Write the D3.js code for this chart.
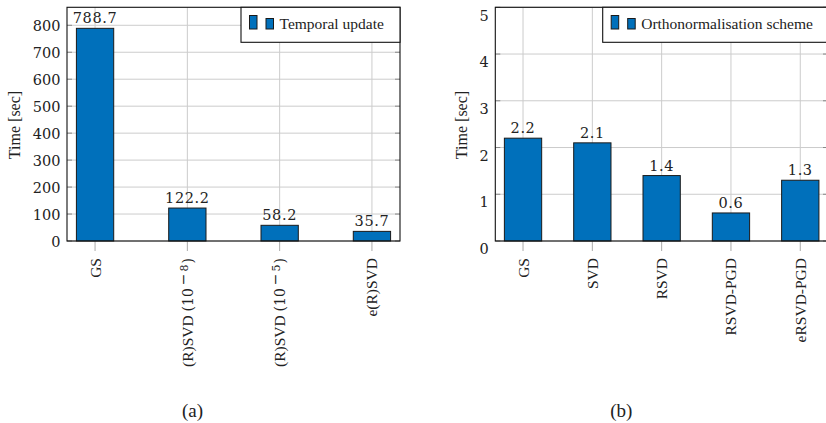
<!DOCTYPE html>
<html>
<head>
<meta charset="utf-8">
<script src="https://cdn.jsdelivr.net/npm/d3@7"></script>
<style>
  html, body { margin: 0; padding: 0; background: #fff; }
  svg { display: block; }
</style>
</head>
<body>
<svg id="fig" width="826" height="423"></svg>
<script>
// Temporal update timings
const catsA = ["GS", "(R)SVD (10^-8)", "(R)SVD (10^-5)", "e(R)SVD"];
const valsA = [788.7, 122.2, 58.2, 35.7];
const ticksA = [0, 100, 200, 300, 400, 500, 600, 700, 800];
const legendA = "Temporal update";

// Orthonormalisation scheme timings
const catsB = ["GS", "SVD", "RSVD", "RSVD-PGD", "eRSVD-PGD"];
const valsB = [2.2, 2.1, 1.4, 0.6, 1.3];
const ticksB = [0, 1, 2, 3, 4, 5];
const legendB = "Orthonormalisation scheme";

const yTitle = "Time [sec]";
const captions = ["(a)", "(b)"];

const BLUE = "#0070bb";
const serif = "'Liberation Serif', 'Times New Roman', serif";
const numFont = "'DejaVu Serif', serif";

const svg = d3.select("#fig");

function panel(opt) {
  const g = svg.append("g");
  const x = d3.scalePoint().domain(opt.cats).range([opt.x0, opt.x1]).padding(opt.pad);
  const y = d3.scaleLinear().domain([0, opt.ymax]).range([opt.y1, opt.y0]);
  const barW = 37.3;

  // grid
  g.append("g").selectAll("line.v").data(opt.cats).join("line")
    .attr("x1", d => x(d)).attr("x2", d => x(d))
    .attr("y1", opt.y0).attr("y2", opt.y1)
    .attr("stroke", "#cccccc").attr("stroke-width", 1);
  g.append("g").selectAll("line.h").data(opt.ticks).join("line")
    .attr("x1", opt.x0).attr("x2", opt.x1)
    .attr("y1", d => y(d)).attr("y2", d => y(d))
    .attr("stroke", "#cccccc").attr("stroke-width", 1);

  // y tick marks (inside the frame)
  g.append("g").selectAll("line").data(opt.ticks).join("line")
    .attr("x1", opt.x0).attr("x2", opt.x0 + 5)
    .attr("y1", d => y(d)).attr("y2", d => y(d))
    .attr("stroke", "#888").attr("stroke-width", 1);
  g.append("g").selectAll("line").data(opt.ticks).join("line")
    .attr("x1", opt.x1 - 5).attr("x2", opt.x1)
    .attr("y1", d => y(d)).attr("y2", d => y(d))
    .attr("stroke", "#888").attr("stroke-width", 1);

  // x tick marks below the axis
  g.append("g").selectAll("line").data(opt.cats).join("line")
    .attr("x1", d => x(d)).attr("x2", d => x(d))
    .attr("y1", opt.y1).attr("y2", opt.y1 + 10)
    .attr("stroke", "#aaaaaa").attr("stroke-width", 1);

  // bars
  const data = opt.cats.map((c, i) => ({c, v: opt.vals[i]}));
  g.append("g").selectAll("rect").data(data).join("rect")
    .attr("x", d => x(d.c) - barW / 2)
    .attr("width", barW)
    .attr("y", d => y(d.v))
    .attr("height", d => y(0) - y(d.v))
    .attr("fill", BLUE)
    .attr("stroke", "#1a1a1a").attr("stroke-width", 1);

  // value labels
  g.append("g").selectAll("text").data(data).join("text")
    .attr("x", d => x(d.c))
    .attr("y", d => y(d.v) - 5)
    .attr("text-anchor", "middle")
    .attr("font-family", numFont).attr("font-size", 14.5)
    .attr("letter-spacing", 0.6)
    .attr("fill", "#222")
    .text(d => d.v.toFixed(1));

  // frame
  g.append("rect")
    .attr("x", opt.x0).attr("y", opt.y0)
    .attr("width", opt.x1 - opt.x0).attr("height", opt.y1 - opt.y0)
    .attr("fill", "none").attr("stroke", "#111").attr("stroke-width", 1.1);

  // y tick labels
  g.append("g").selectAll("text").data(opt.ticks).join("text")
    .attr("x", opt.x0 - 6.5)
    .attr("y", d => y(d) + opt.labelShift)
    .attr("dy", "0.36em")
    .attr("text-anchor", "end")
    .attr("font-family", numFont).attr("font-size", 14.5)
    .attr("fill", "#222")
    .text(d => d);

  // x labels, rotated
  const xl = g.append("g").selectAll("text").data(opt.cats).join("text")
    .attr("transform", d => `translate(${x(d) + 5.5},${opt.y1 + 17}) rotate(-90)`)
    .attr("text-anchor", "end")
    .attr("font-family", serif).attr("font-size", 15.5)
    .attr("fill", "#222");
  xl.each(function(d) {
    const t = d3.select(this);
    const m = d.match(/^(.*) \(10\^(-?\d+)\)$/);
    if (m) {
      t.append("tspan").text(m[1] + " ");
      t.append("tspan").attr("font-family", numFont).attr("font-size", 14).text("(10");
      t.append("tspan").attr("font-family", numFont).attr("font-size", 14)
        .attr("dy", -5).attr("dx", 3).text("\u2212");
      t.append("tspan").attr("font-family", numFont).attr("font-size", 11)
        .attr("dx", 2).text(m[2].replace("-", ""));
      t.append("tspan").attr("font-family", numFont).attr("font-size", 14)
        .attr("dy", 5).attr("dx", 1).text(")");
    } else {
      t.text(d);
    }
  });

  // y title
  g.append("text")
    .attr("transform", `translate(${opt.titleX},125) rotate(-90)`)
    .attr("text-anchor", "middle").attr("dy", "0.35em")
    .attr("font-family", serif).attr("font-size", 16)
    .attr("fill", "#222")
    .text(yTitle);

  // legend
  const lg = g.append("g");
  lg.append("rect")
    .attr("x", opt.legX).attr("y", opt.y0)
    .attr("width", opt.x1 - opt.legX).attr("height", 35)
    .attr("fill", "#fff").attr("stroke", "#111").attr("stroke-width", 1.1);
  lg.append("rect")
    .attr("x", opt.legX + 8.5).attr("y", 15.5).attr("width", 7.5).attr("height", 13.5)
    .attr("fill", BLUE).attr("stroke", "#1a1a1a").attr("stroke-width", 1);
  lg.append("rect")
    .attr("x", opt.legX + 25).attr("y", 18.5).attr("width", 7.5).attr("height", 10.5)
    .attr("fill", BLUE).attr("stroke", "#1a1a1a").attr("stroke-width", 1);
  lg.append("text")
    .attr("x", opt.legX + 38.5).attr("y", 28.5)
    .attr("font-family", serif).attr("font-size", 15.5)
    .attr("fill", "#222")
    .text(opt.legend);

  // caption
  svg.append("text")
    .attr("x", opt.capX).attr("y", 416.5)
    .attr("text-anchor", "middle")
    .attr("font-family", serif).attr("font-size", 19)
    .attr("fill", "#222")
    .text(opt.caption);
}

panel({
  cats: catsA, vals: valsA, ticks: ticksA, ymax: 866.7,
  x0: 67, x1: 400, y0: 7.3, y1: 241, pad: 0.304,
  labelShift: 0.5, titleX: 14, legX: 241, legend: legendA,
  capX: 192.5, caption: captions[0]
});

panel({
  cats: catsB, vals: valsB, ticks: ticksB, ymax: 5,
  x0: 495.3, x1: 828, y0: 7.3, y1: 241, pad: 0.4,
  labelShift: 8, titleX: 461.3, legX: 602.7, legend: legendB,
  capX: 621.3, caption: captions[1]
});
</script>
</body>
</html>
